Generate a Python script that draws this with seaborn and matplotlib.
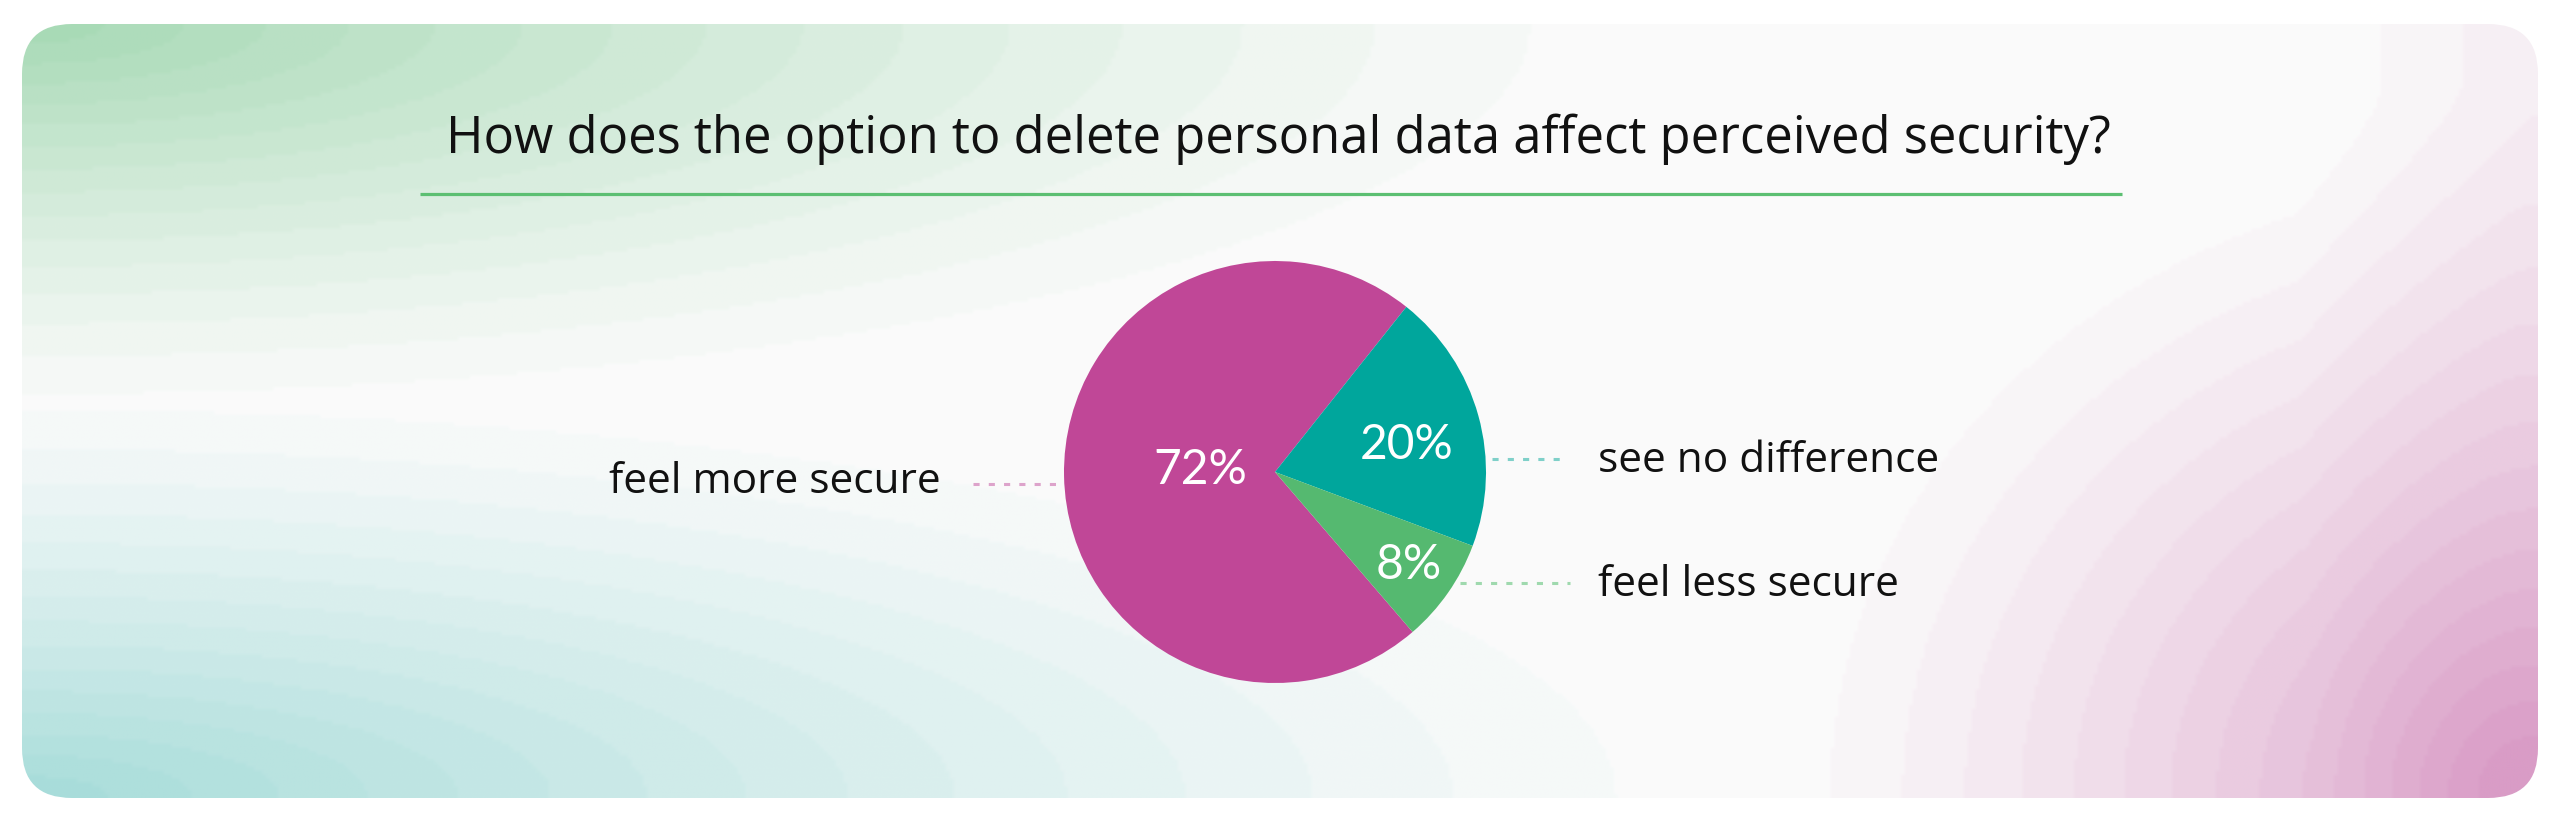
import numpy as np
import matplotlib
matplotlib.use("Agg")
import matplotlib.pyplot as plt
from matplotlib.patches import FancyBboxPatch
import seaborn as sns

# data
categories = ["feel more secure", "see no difference", "feel less secure"]
shares = [72, 20, 8]
pct_labels = ["72%", "20%", "8%"]
title = "How does the option to delete personal data affect perceived security?"

sns.set_theme(style="white")
plt.rcParams["font.family"] = ["Open Sans", "DejaVu Sans"]

palette = sns.color_palette(["#c04797", "#00a69c", "#55b970"])
line_colors = ["#dda3cb", "#7fd0c9", "#9fd9ae"]

W, H = 2560, 830
fig = plt.figure(figsize=(W / 100, H / 100), dpi=100)
fig.patch.set_facecolor("white")

# background card
bg = fig.add_axes([0, 0, 1, 1])
bg.set_xlim(0, W)
bg.set_ylim(H, 0)
bg.axis("off")

cx0, cy0, cw, ch = 22, 24, 2516, 774
xs = np.linspace(0, 1, 640)
ys = np.linspace(0, 1, 200)
X, Y = np.meshgrid(xs * cw, ys * ch)

def falloff(d, p=1.6):
    return np.clip(1 - d, 0, 1) ** p

w_green = falloff(np.sqrt((X / 1750) ** 2 + (Y / 430) ** 2), 1.4)
w_teal = falloff(np.sqrt((X / 1850) ** 2 + ((ch - Y) / 450) ** 2), 1.4)
w_pink = falloff(np.sqrt(((cw - X) / 820) ** 2 + ((ch - Y) / 720) ** 2), 1.4)
w_pink2 = 0.18 * falloff(np.sqrt(((cw - X) / 240) ** 2 + (Y / 2000) ** 2), 1.0)
levels = 16
ws = [np.floor(w * levels) / levels for w in (w_green, w_teal, w_pink + w_pink2)]
cols = [np.array(matplotlib.colors.to_rgb(c)) for c in ("#a3d8b2", "#a3dbd8", "#d99cc6")]
base = np.array(matplotlib.colors.to_rgb("#fbfbfb"))
tot = np.clip(sum(ws), 1e-9, None)
scale = np.where(tot > 1, 1 / tot, 1.0)
img = base * (1 - np.clip(tot, 0, 1))[..., None]
for w, c in zip(ws, cols):
    img = img + (w * scale)[..., None] * c
img = np.clip(img, 0, 1)

card = FancyBboxPatch((cx0, cy0), cw, ch, boxstyle="round,pad=0,rounding_size=50",
                      facecolor="none", edgecolor="none", transform=bg.transData)
bg.add_patch(card)
im = bg.imshow(img, extent=(cx0, cx0 + cw, cy0 + ch, cy0), interpolation="bilinear", aspect="auto")
im.set_clip_path(card)

# title and underline
bg.text(1278, 153, title, ha="center", va="baseline", fontsize=36.5, color="#111111")
bg.plot([420, 2122], [194, 194], color="#5cbf72", lw=2.3, solid_capstyle="butt")

# label leader lines and texts
label_lines = [(973, 1063, 484), (1492, 1568, 459), (1460, 1570, 583)]
label_text = [(941, 493, "right"), (1598, 472, "left"), (1598, 596, "left")]
for cat, (x1, x2, ly), (tx, ty, ha), lc in zip(categories, label_lines, label_text, line_colors):
    bg.plot([x1, x2], [ly, ly], color=lc, lw=2.2, linestyle=(0, (2, 3)), dash_capstyle="butt")
    bg.text(tx, ty, cat, ha=ha, va="baseline", fontsize=30.5, color="#111111")

# pie
pcx, pcy, r = 1275, 472, 211
pax = fig.add_axes([(pcx - r) / W, (H - pcy - r) / H, 2 * r / W, 2 * r / H])
wedges, _ = pax.pie(shares, colors=palette, startangle=310.7, counterclock=False,
                    wedgeprops=dict(linewidth=0))
pax.set_xlim(-1, 1)
pax.set_ylim(-1, 1)
pax.set_aspect("equal")
pax.axis("off")
for wdg in wedges:
    wdg.set_clip_on(False)

pct_dist = [0.355, 0.635, 0.77]
pct_turn = [-3.0, -4.0, 0.0]
for wdg, lab, d, t in zip(wedges, pct_labels, pct_dist, pct_turn):
    ang = np.deg2rad((wdg.theta1 + wdg.theta2) / 2 + t)
    pax.text(d * np.cos(ang), d * np.sin(ang), lab, ha="center", va="center",
             fontsize=34.5, color="white", family=["Lato", "DejaVu Sans"])

fig.savefig("out.png", dpi=100, facecolor="white")
